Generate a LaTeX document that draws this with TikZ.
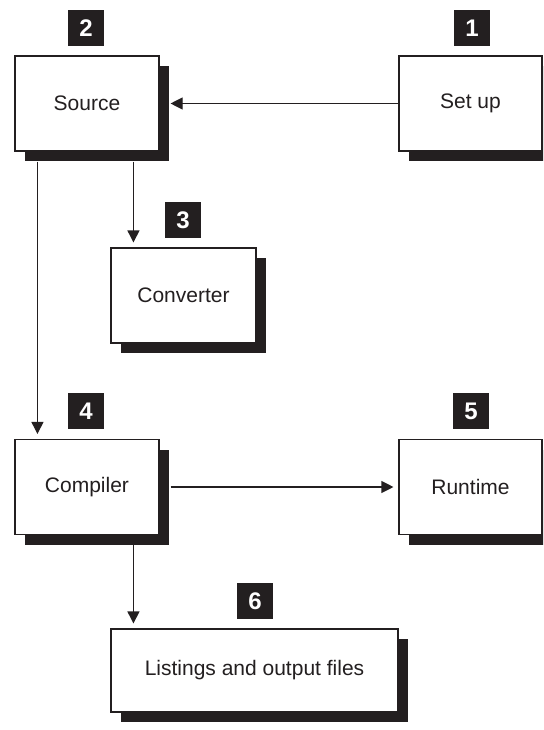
\documentclass[tikz,border=0pt]{standalone}
\usepackage{fontspec}
\setmainfont{Liberation Sans}
\usetikzlibrary{arrows.meta,calc,shadows}
\definecolor{ink}{HTML}{231F20}

\begin{document}
\begin{tikzpicture}[x=1pt,y=-1pt,line width=1.1pt,
  stage/.style={draw=ink,fill=white,rectangle,inner sep=0pt,minimum height=95pt,
    general shadow={fill=ink,shadow xshift=10pt,shadow yshift=-10pt},
    text=ink,font=\fontsize{21}{25}\selectfont},
  tag/.style={fill=ink,text=white,inner sep=0pt,minimum size=36pt,
    font=\bfseries\fontsize{24}{28}\selectfont},
  flow/.style={draw=ink,-{Triangle[length=12pt,width=12pt]},shorten >=5pt}]
\useasboundingbox (0,0) rectangle (543,730);
\clip (0,0) rectangle (543,730);
% Les six etapes, chacune avec son numero.
\node[stage,minimum width=144pt] (source) at (87,103.5) {Source};
\node[stage,minimum width=143pt] (setup) at (470.5,103.5) {Set up};
\node[stage,minimum width=145pt] (converter) at (183.5,295.5) {Converter};
\node[stage,minimum width=144pt] (compiler) at (87,487) {Compiler};
\node[stage,minimum width=143pt] (runtime) at (470.5,487) {Runtime};
\node[stage,minimum width=287pt,minimum height=83pt] (listings) at (254.5,670.5) {Listings and output files};
\node[tag] (n1) at (472,28) {1};
\node[tag] (n2) at (86,28) {2};
\node[tag] (n3) at (183,220) {3};
\node[tag] (n4) at (86,411) {4};
\node[tag] (n5) at (471,411) {5};
\node[tag] (n6) at (255,601) {6};
% Les fleches partent du bord de l'ombre.
\coordinate (cvin) at ([xshift=23pt]converter.north west);
\coordinate (cpin) at ([xshift=23pt]compiler.north west);
\coordinate (lsin) at ([xshift=23pt]listings.north west);
\draw[flow,shorten >=0pt] (setup.west) -- ([xshift=11pt]source.east);
\draw[flow] ($(source.south -| cvin)+(0,10)$) -- (cvin);
\draw[flow] ($(source.south -| cpin)+(0,10)$) -- (cpin);
\draw[flow] ([xshift=11pt]compiler.east) -- (runtime.west);
\draw[flow] ($(compiler.south -| lsin)+(0,10)$) -- (lsin);
\end{tikzpicture}
\end{document}
